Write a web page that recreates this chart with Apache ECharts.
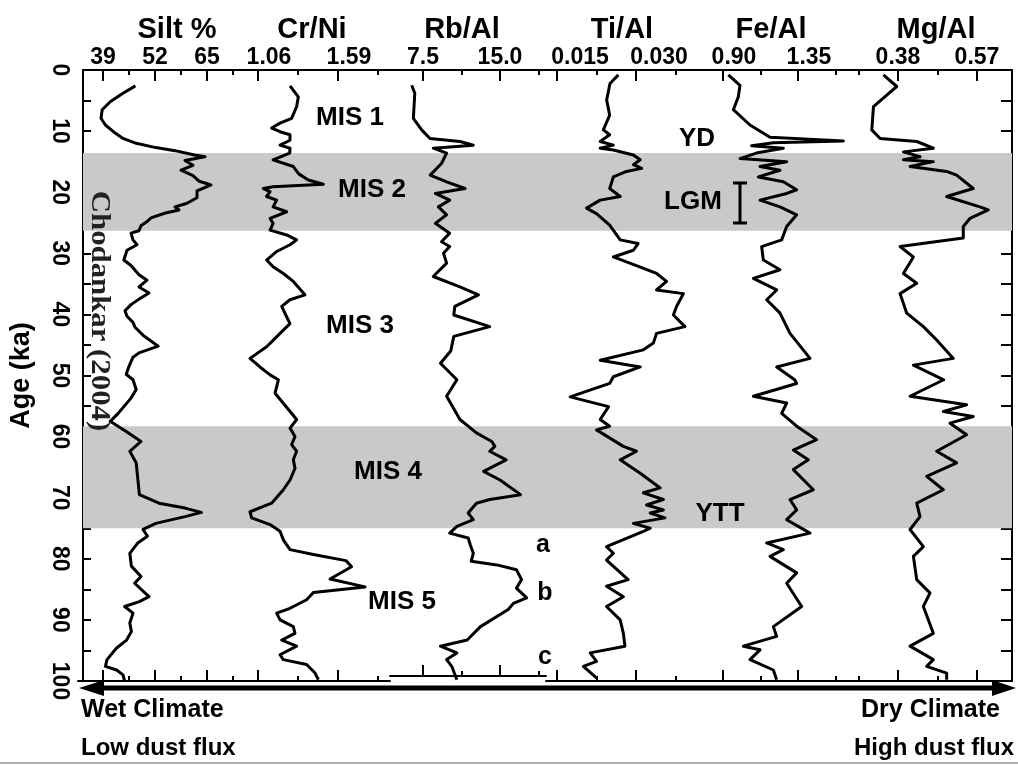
<!DOCTYPE html>
<html><head><meta charset="utf-8">
<script src="https://cdn.jsdelivr.net/npm/echarts@6.0.0/dist/echarts.min.js"></script>
<style>html,body{margin:0;padding:0;background:#fff}#c{width:1018px;height:765px}</style>
</head><body><div id="c"></div>
<script>
// ---- DATA: [age (ka), value] ----
const silt = [[2.6,47.1],[3.8,44],[5.2,40.8],[6.5,38.8],[7.9,38.5],[9.0,39.6],[10.1,41.6],[11.2,44],[12.0,47.3],[12.7,52.2],[13.2,57],[13.9,61.9],[14.2,64.5],[14.8,59.5],[15.6,61.5],[16.4,58.5],[17.3,61.5],[18.2,63],[18.8,66],[19.8,62.5],[20.9,62.5],[21.8,60],[22.4,57],[22.9,58],[23.4,54.6],[24.2,51],[24.8,50],[25.5,48.5],[26.3,48],[26.7,46],[27.8,46.5],[28.6,47.5],[29.5,45],[31.1,44.2],[32,46],[33.5,48],[34.4,50],[35.5,48],[36.5,50.5],[37.5,48],[38.4,46],[39.4,44.5],[40.3,45],[41.3,46.5],[42.1,47],[43.4,49],[45.2,52.8],[46.3,48],[47,46.5],[48.5,45.5],[49.8,44.8],[50.7,46.5],[52.3,47.3],[53.7,46],[56.2,42.8],[57.5,40.8],[59.2,44.9],[60.8,48.5],[62.4,45.7],[64.3,47.3],[69.5,48.1],[70.9,53],[71.7,59.5],[72.4,63.6],[73.1,59.5],[74.2,52.2],[75.2,49],[76.3,50.1],[77.4,47.7],[79.1,45.7],[81.2,46.1],[82.9,48.5],[84,46.9],[86.2,50.5],[87,48.1],[87.8,44.4],[88.9,46.5],[90.5,45.7],[91.9,46.1],[93.3,44.9],[94.6,42.4],[96.5,40],[97.6,39.6],[98.2,42.4],[99,44],[100,44.4]];
const crni = [[2.6,1.272],[4.4,1.327],[6.0,1.316],[7.9,1.283],[8.7,1.206],[9.5,1.15],[10.1,1.206],[10.6,1.272],[11.5,1.272],[12.3,1.206],[12.8,1.272],[13.6,1.27],[14.7,1.16],[15.8,1.294],[17,1.33],[18,1.393],[18.7,1.493],[19.1,1.16],[19.4,1.095],[19.9,1.14],[20.7,1.117],[21.3,1.184],[22.4,1.16],[23.2,1.25],[24.3,1.14],[25.1,1.16],[26.2,1.14],[27,1.25],[27.8,1.316],[28.6,1.272],[29.7,1.184],[31.1,1.117],[32.2,1.16],[33.3,1.228],[34.6,1.294],[36.8,1.371],[37.6,1.272],[38.7,1.217],[40.4,1.25],[41.5,1.272],[43.1,1.206],[44.5,1.15],[45.3,1.117],[47.2,1.007],[48.6,1.073],[49.9,1.14],[50.7,1.195],[52.9,1.173],[57.2,1.316],[58.6,1.272],[60,1.305],[61.3,1.283],[62.4,1.316],[63.8,1.294],[65.2,1.305],[67.1,1.272],[68.7,1.228],[70.9,1.15],[72.3,1.007],[73.3,1.018],[74.4,1.14],[75.5,1.206],[76.9,1.228],[78.5,1.272],[79.3,1.427],[80.3,1.643],[81.3,1.68],[83.3,1.537],[84.6,1.769],[85.5,1.427],[86.7,1.382],[88.1,1.272],[88.9,1.184],[90,1.206],[91.1,1.294],[92.2,1.305],[93.3,1.217],[94.3,1.316],[95.7,1.206],[96.5,1.228],[97.3,1.382],[98.7,1.438],[99.8,1.46]];
const rbal = [[2.5,6.4],[3.8,6.7],[7.9,6.56],[9.8,7.37],[11.2,8.18],[11.7,11.1],[12.3,12.4],[12.8,8.5],[13.6,9.8],[15.3,9.3],[17.2,8.2],[18.3,9.8],[19.4,11.6],[20.2,8.7],[21.3,10.1],[22.4,9.0],[23.7,9.8],[25.1,8.7],[26.7,10.1],[28.1,9.3],[28.9,10.1],[30,9.5],[31.6,9.8],[33.8,8.5],[35.5,11.1],[36.8,12.9],[38.7,10.6],[40.1,10.5],[42,14.0],[43.6,10.5],[46,10.2],[48,9.2],[50.7,10.8],[53.4,9.8],[57.2,11.1],[59.4,12.7],[60.8,14.2],[61.6,14.5],[62.4,14.0],[63.8,15.6],[65.7,13.4],[67.1,15.0],[69.5,17.0],[70.3,14.0],[70.9,12.7],[72.5,11.9],[73.6,12.4],[74.7,10.8],[75.8,10.1],[76.6,11.9],[77.7,12.1],[79.1,12.4],[80.4,12.2],[81,14.7],[81.8,16.6],[83.4,17.1],[84.8,16.6],[86.4,17.6],[87.3,16.3],[88.3,15.8],[91.1,13.1],[93.3,11.8],[94.3,9.2],[95.4,10.8],[96.5,9.8],[97.6,10.3],[99.8,10.8]];
const tial = [[0.8,0.02665],[2.2,0.02506],[4.9,0.02443],[7.4,0.025],[9.8,0.0238],[10.6,0.025],[11.7,0.0232],[12.3,0.0257],[12.8,0.0232],[13.1,0.0257],[13.9,0.0295],[14.7,0.0308],[15.5,0.0295],[16.1,0.0311],[16.6,0.0282],[17.5,0.0257],[19.4,0.025],[20.7,0.027],[21.3,0.0232],[22.6,0.0206],[23.5,0.0225],[25.4,0.025],[27.8,0.027],[28.4,0.0304],[29.5,0.0295],[30.6,0.0257],[31.4,0.0282],[33.3,0.0339],[34.6,0.0358],[36,0.0339],[36.6,0.039],[38.7,0.0377],[40.1,0.0371],[42,0.0393],[43.1,0.0339],[44.7,0.0333],[45.8,0.0314],[47.5,0.0232],[48.6,0.0308],[50.2,0.0257],[51.3,0.025],[53.5,0.0175],[55.1,0.0248],[57.2,0.0232],[58.3,0.025],[58.9,0.0225],[61.6,0.0276],[62.4,0.0301],[63.8,0.027],[66,0.0308],[68.4,0.0346],[69.2,0.0314],[70.3,0.0352],[71.2,0.032],[72,0.0352],[72.5,0.0327],[73.3,0.0355],[74.2,0.0295],[75,0.0327],[75.5,0.0314],[78,0.0244],[79.1,0.0257],[80.2,0.0244],[83.4,0.0285],[84.5,0.0244],[86.2,0.0276],[87.8,0.0244],[90,0.027],[92.2,0.0276],[94.3,0.0279],[95.4,0.0213],[96.8,0.0225],[97.6,0.02],[99.5,0.0225]];
const feal = [[0.8,0.932],[2.5,1.002],[4.4,0.992],[6.5,0.962],[9,1.062],[11,1.182],[11.6,1.622],[11.9,1.202],[12.4,1.072],[12.8,1.262],[13.6,1.1],[14.5,1.002],[14.7,1.112],[15,1.282],[15.8,1.122],[16.4,1.242],[17.5,1.112],[18.3,1.262],[19.6,1.342],[20.2,1.282],[21.3,1.122],[22.4,1.242],[23.7,1.342],[25.6,1.282],[27.8,1.252],[28.9,1.132],[31.1,1.142],[32.7,1.242],[34.1,1.082],[36,1.222],[37.6,1.162],[39.8,1.242],[43.1,1.302],[47.2,1.422],[48.6,1.222],[50.7,1.33],[51.3,1.342],[53.4,1.082],[54.5,1.282],[56.2,1.252],[58.3,1.342],[60.5,1.462],[62.2,1.322],[63.8,1.412],[65.4,1.322],[68.7,1.442],[70.3,1.302],[72,1.342],[73.6,1.282],[75.8,1.422],[77.4,1.162],[78.5,1.262],[79.6,1.182],[82.3,1.342],[84,1.282],[87.8,1.372],[91.1,1.202],[92.7,1.222],[94.3,1.022],[94.9,1.122],[96.5,1.062],[98.2,1.202],[99.8,1.222]];
const mgal = [[0.8,0.345],[2.7,0.377],[4.1,0.353],[6,0.321],[9.8,0.317],[11.2,0.337],[11.7,0.425],[12.8,0.465],[13.4,0.393],[14.2,0.433],[14.7,0.393],[15,0.465],[15.8,0.409],[16.6,0.497],[17.2,0.521],[19.4,0.561],[20.7,0.497],[22.4,0.577],[22.9,0.597],[24.3,0.553],[25.6,0.537],[27.5,0.537],[28.9,0.385],[30.6,0.417],[33.3,0.393],[34.9,0.425],[36.6,0.385],[39.8,0.401],[42,0.441],[44.2,0.473],[47.2,0.513],[48.3,0.417],[50.7,0.49],[53.4,0.409],[54.8,0.545],[55.9,0.489],[56.7,0.561],[57.8,0.505],[59.7,0.545],[62.4,0.473],[64.3,0.521],[66.5,0.449],[68.7,0.489],[70.9,0.425],[73.1,0.433],[75.2,0.409],[78,0.441],[79.6,0.417],[83.4,0.425],[85.6,0.457],[87.8,0.441],[92.2,0.465],[94.3,0.409],[96.5,0.465],[97.6,0.449],[98.7,0.497],[99.8,0.497]];

const titles = ['Silt %','Cr/Ni','Rb/Al','Ti/Al','Fe/Al','Mg/Al'];
const majorTicks = [[39,52,65],[1.06,1.59],[7.5,15.0],[0.015,0.030],[0.90,1.35],[0.38,0.57]];
const majorLabels = [['39','52','65'],['1.06','1.59'],['7.5','15.0'],['0.015','0.030'],['0.90','1.35'],['0.38','0.57']];
const minorTicks = [[45.5,58.5,71.5],[1.325,1.855],[11.25,18.75],[0.0225,0.0375],[1.125,1.575],[0.285,0.475]];
const ageTicks = [0,5,10,15,20,25,30,35,40,45,50,55,60,65,70,75,80,85,90,95,100];
const ageLabels = [0,10,20,30,40,50,60,70,80,90,100];
const misBands = [[13.6,26.3],[58.3,75.0]];

// ---- LAYOUT ----
const TOP = 70, H = 611, FL = 78, FR = 1012;
const panels = [
  {l:78,  r:233,  min:32.75,    max:71.5,     shift:0,  tx:177, off:0},
  {l:233, r:390,  min:0.89437,  max:1.93451,  shift:11, tx:312, off:0},
  {l:390, r:546,  min:4.2857,   max:19.4805,  shift:0,  tx:462, off:-5},
  {l:546, r:700,  min:0.012911, max:0.042152, shift:23, tx:622, off:0},
  {l:700, r:845,  min:0.762,    max:1.632,    shift:11, tx:771, off:0},
  {l:845, r:1012, min:0.25253,  max:0.65418,  shift:0,  tx:936, off:0}
];
const seriesData = [silt, crni, rbal, tial, feal, mgal];
const FAM = '"Liberation Sans", Arial, sans-serif';
const f = s => 'bold ' + s + 'px ' + FAM;
const ts = s => ({fontSize:s, fontWeight:'bold', fontFamily:FAM, color:'#000'});

const grids = [{left:FL, top:TOP, width:FR-FL, height:H}];
const xAxes = [{gridIndex:0, type:'value', min:0, max:1, position:'top',
  axisLine:{show:true, lineStyle:{color:'#000', width:2}}, axisTick:{show:false}, axisLabel:{show:false}, splitLine:{show:false}}];
const yAxes = [
  {gridIndex:0, type:'value', min:0, max:100, inverse:true, position:'left',
   name:'Age (ka)', nameLocation:'middle', nameGap:48, nameRotate:90,
   nameTextStyle:ts(27),
   axisLine:{show:true, lineStyle:{color:'#000', width:2}},
   axisTick:{show:true, inside:true, length:8, customValues:ageTicks, lineStyle:{color:'#000', width:2}},
   axisLabel:Object.assign({show:true, customValues:ageLabels, rotate:-90, margin:12}, ts(23)),
   splitLine:{show:false}},
  {gridIndex:0, type:'value', min:0, max:100, inverse:true, position:'right',
   axisLine:{show:true, lineStyle:{color:'#000', width:2}},
   axisTick:{show:true, inside:true, length:11, customValues:ageTicks, lineStyle:{color:'#000', width:2}},
   axisLabel:{show:false}, splitLine:{show:false}}
];
const series = [{
  type:'line', xAxisIndex:0, yAxisIndex:0, data:[], z:1, silent:true,
  markArea:{silent:true, itemStyle:{color:'#c9c9c9', opacity:1},
    data: misBands.map(b => [{yAxis:b[0]}, {yAxis:b[1]}])}
}];

panels.forEach((p, i) => {
  const gi = grids.length;
  grids.push({left:p.l, top:TOP, width:p.r - p.l, height:H});
  const base = {gridIndex:gi, type:'value', min:p.min, max:p.max, splitLine:{show:false}};
  const labs = majorLabels[i], vals = majorTicks[i];
  const fmt = v => { let k = 0, d = Infinity; vals.forEach((t, j) => { const e = Math.abs(t - v); if (e < d) { d = e; k = j; } }); return labs[k]; };
  const xi = xAxes.length;
  xAxes.push(Object.assign({}, base, {position:'top', axisLine:{show:false},
    axisTick:{show:true, inside:true, length:11, customValues:vals, lineStyle:{color:'#000', width:2}},
    axisLabel:Object.assign({show:true, customValues:vals, formatter:fmt, margin:1,
      padding:[0,0,0,2*p.shift]}, ts(23))}));
  xAxes.push(Object.assign({}, base, {position:'top', axisLine:{show:false},
    axisTick:{show:true, inside:true, length:5, customValues:minorTicks[i], lineStyle:{color:'#000', width:2}},
    axisLabel:{show:false}}));
  xAxes.push(Object.assign({}, base, {position:'bottom', offset:p.off, axisLine:{show:true, lineStyle:{color:'#000', width:2}},
    axisTick:{show:true, inside:true, length:11, customValues:vals, lineStyle:{color:'#000', width:2}},
    axisLabel:{show:false}}));
  xAxes.push(Object.assign({}, base, {position:'bottom', offset:p.off, axisLine:{show:false},
    axisTick:{show:true, inside:true, length:5, customValues:minorTicks[i], lineStyle:{color:'#000', width:2}},
    axisLabel:{show:false}}));
  const yi = yAxes.length;
  yAxes.push({gridIndex:gi, type:'value', min:0, max:100, inverse:true, show:false});
  series.push({type:'line', name:titles[i], xAxisIndex:xi, yAxisIndex:yi, z:5,
    showSymbol:false, symbol:'none', smooth:false, silent:true,
    lineStyle:{color:'#000', width:3, join:'round'},
    data: seriesData[i].map(d => [d[1], d[0]])});
});

// ---- TEXT / DECORATION ----
const graphic = [];
panels.forEach((p, i) => graphic.push({type:'text', x:p.tx, y:30,
  style:{text:titles[i], font:f(29), fill:'#000', textAlign:'center', textVerticalAlign:'middle'}}));
const ann = [
  ['MIS 1',350,118,26],['MIS 2',372,190,26],['MIS 3',360,326,26],['MIS 4',388,472,26],['MIS 5',402,602,26],
  ['YD',697,139,26],['LGM',693,202,26],['YTT',720,514,26],['a',543,545,25],['b',545,593,25],['c',545,657,25]
];
ann.forEach(a => graphic.push({type:'text', x:a[1], y:a[2], z:10,
  style:{text:a[0], font:f(a[3]), fill:'#000', textAlign:'center', textVerticalAlign:'middle'}}));
// LGM bar
graphic.push({type:'line', shape:{x1:740,y1:183,x2:740,y2:223}, style:{stroke:'#000', lineWidth:3}, z:10});
graphic.push({type:'line', shape:{x1:733,y1:183,x2:747,y2:183}, style:{stroke:'#000', lineWidth:3}, z:10});
graphic.push({type:'line', shape:{x1:733,y1:223,x2:747,y2:223}, style:{stroke:'#000', lineWidth:3}, z:10});
// Chodankar text
graphic.push({type:'text', x:99, y:311, rotation:-Math.PI/2, scaleX:1.1, z:10,
  style:{text:'Chodankar (2004)', font:'bold 28px "Liberation Serif", "Times New Roman", serif', fill:'#222',
    textAlign:'center', textVerticalAlign:'middle'}});
// double arrow
graphic.push({type:'line', shape:{x1:95,y1:688,x2:998,y2:688}, style:{stroke:'#000', lineWidth:5}, z:10});
graphic.push({type:'polygon', shape:{points:[[79,688],[104,680],[104,696]]}, style:{fill:'#000'}, z:10});
graphic.push({type:'polygon', shape:{points:[[1016,688],[992,680],[992,696]]}, style:{fill:'#000'}, z:10});
// bottom texts
graphic.push({type:'text', x:81, y:710, style:{text:'Wet Climate', font:f(25), fill:'#000', textAlign:'left', textVerticalAlign:'middle'}});
graphic.push({type:'text', x:1000, y:710, style:{text:'Dry Climate', font:f(25), fill:'#000', textAlign:'right', textVerticalAlign:'middle'}});
graphic.push({type:'text', x:81, y:748, style:{text:'Low dust flux', font:f(24), fill:'#000', textAlign:'left', textVerticalAlign:'middle'}});
graphic.push({type:'text', x:1014, y:748, style:{text:'High dust flux', font:f(24), fill:'#000', textAlign:'right', textVerticalAlign:'middle'}});
graphic.push({type:'line', shape:{x1:0,y1:763,x2:1018,y2:763}, style:{stroke:'#b0b0b0', lineWidth:2}});

const chart = echarts.init(document.getElementById('c'));
chart.setOption({animation:false, backgroundColor:'#fff', grid:grids, xAxis:xAxes, yAxis:yAxes, series:series, graphic:graphic});
</script></body></html>
